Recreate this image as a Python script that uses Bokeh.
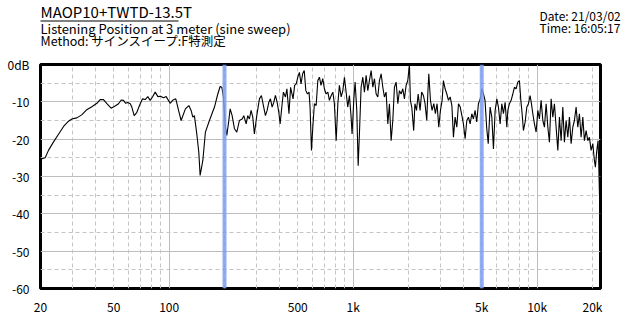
from bokeh.plotting import figure
from bokeh.models import Range1d, FixedTicker, Grid
from bokeh.layouts import column
from bokeh.core.properties import value
from bokeh.embed import file_html
from bokeh.resources import INLINE

FONT = "Noto Sans CJK JP"

title_text = "MAOP10+TWTD-13.5T"
subtitle_text = "Listening Position at 3 meter (sine sweep)"
method_text = "Method:  サインスイープ:F特測定"
date_text = "Date: 21/03/02"
time_text = "Time: 16:05:17"

x_ticks = [20, 50, 100, 500, 1000, 5000, 10000, 20000]
x_tick_labels = ["20", "50", "100", "500", "1k", "5k", "10k", "20k"]
y_ticks = [-60, -50, -40, -30, -20, -10, 0]
y_tick_labels = ["-60", "-50", "-40", "-30", "-20", "-10", "0dB"]
x_major_grid = [100, 1000, 10000]
x_minor_grid = [30, 40, 50, 60, 70, 80, 90,
                200, 300, 400, 500, 600, 700, 800, 900,
                2000, 3000, 4000, 5000, 6000, 7000, 8000, 9000, 20000]
y_major_grid = [-50, -40, -30, -20, -10]
y_minor_grid = [-55, -45, -35, -25, -15, -5]
marker_hz = [200, 5000]

freq_hz = [
    20.0, 21.2, 22.1, 23.5, 25.1, 26.7, 28.4, 29.6, 31.5, 33.5, 35.7, 38.0, 40.5, 42.2, 44.0,
    45.9, 48.4, 50.9, 53.1, 54.9, 56.5, 58.1, 59.6, 61.5, 62.7, 64.6, 66.8, 69.0, 71.7, 74.1,
    76.6, 78.9, 81.2, 84.0, 86.9, 89.8, 93.2, 96.4, 101.3, 105.1, 108.7, 112.3, 116.2, 122.6,
    128, 131.7, 134.5, 137.2, 141.4, 145, 147.4, 152.5, 157.5, 165.6, 176.4, 183.9, 189.3,
    193.4, 197.3, 202.3, 205.9, 211.1, 214.6, 220, 226.5, 233.3, 241, 249.4, 254.6, 262.2,
    267.6, 273.1, 278.9, 284.9, 290.7, 299.5, 309.6, 317.4, 325.4, 333.8, 341, 348.3, 355.3,
    363, 370.7, 378.2, 386.2, 394.6, 401.1, 411.4, 418, 428.8, 436.6, 448, 457.3, 471.6, 481,
    490.7, 500.6, 510.7, 521, 531.6, 542.4, 553.4, 564.7, 576.1, 583.4, 593.8, 603.8, 616,
    629.5, 643, 656, 669, 684, 698, 713, 729, 743, 760, 776, 791, 809, 826, 842, 861, 879, 897,
    916, 935, 955, 975, 987, 1009, 1025, 1047, 1065, 1082, 1105, 1129, 1152, 1177, 1202, 1226,
    1253, 1280, 1306, 1334, 1362, 1390, 1420, 1450, 1479, 1511, 1544, 1575, 1609, 1643, 1677,
    1713, 1750, 1785, 1823, 1862, 1900, 1941, 1982, 2023, 2048, 2083, 2134, 2167, 2211, 2257,
    2311, 2358, 2410, 2460, 2513, 2546, 2578, 2632, 2686, 2745, 2800, 2859, 2920, 2982, 3045,
    3096, 3162, 3230, 3297, 3369, 3441, 3509, 3583, 3660, 3738, 3820, 3900, 3976, 4062, 4148,
    4234, 4324, 4416, 4505, 4600, 4697, 4796, 4907, 5007, 5107, 5210, 5316, 5424, 5553, 5672,
    5789, 5913, 6040, 6161, 6294, 6429, 6559, 6700, 6845, 6930, 7071, 7222, 7377, 7527, 7689,
    7854, 8013, 8155, 8289, 8424, 8606, 8791, 8969, 9161, 9312, 9476, 9668, 9876, 10088, 10292,
    10513, 10739, 10958, 11193, 11433, 11665, 11915, 12171, 12417, 12684, 12956, 13218, 13502,
    13792, 14071, 14373, 14682, 14979, 15301, 15630, 15946, 16288, 16638, 16975, 17339, 17712,
    18070, 18458, 18855, 19236, 19649, 20071, 20477, 20735, 21100, 21447, 21636, 22000,
]
level_db = [
    -25.4, -25.0, -23.0, -20.8, -18.6, -16.6, -15.2, -14.6, -14.3, -13.5, -12.1, -11.3, -10.4, -9.4, -9.4,
    -10.5, -11.7, -11.1, -10.5, -9.5, -9.6, -10.4, -10.2, -10.5, -11.4, -13.7, -12.8, -11.0, -9.2, -9.4,
    -8.6, -9.6, -8.7, -7.4, -8.6, -8.5, -8.9, -8.6, -10.4, -9.5, -9.2, -12.1, -15.0, -11.9,
    -11.0, -12.3, -14.1, -13.7, -18.6, -23.5, -29.7, -25.7, -18.1, -15.0, -11.4, -7.9, -5.9,
    -6.1, -8.7, -16.8, -19.0, -15.0, -11.9, -13.7, -17.2, -18.1, -15.0, -14.6, -13.7, -15.9,
    -13.7, -14.6, -12.3, -14.1, -18.6, -13.7, -9.2, -8.3, -11.0, -13.7, -12.3, -10.1, -9.2,
    -11.4, -10.1, -8.3, -10.1, -12.8, -15.9, -10.5, -7.4, -8.7, -6.5, -13.2, -6.1, -9.2, -5.6,
    -5.2, -3.4, -2.1, -5.2, -2.5, -1.6, -7.0, -7.9, -7.4, -11.4, -23.0, -16.8, -10.5,
    -11.0, -4.3, -3.4, -5.6, -3.8, -6.5, -7.9, -7.4, -9.6, -8.3, -7.4, -10.5, -20.4, -10.5, -5.6, -8.7, -7.0, -3.4,
    -7.4, -11.4, -8.3, -14.1, -18.6, -9.2, -4.7, -12.3, -27.1, -18.6, -6.1, -3.4, -7.4, -2.9, -7.0, -4.3,
    -1.6, -6.1, -3.8, -7.9, -8.7, -4.3, -2.5, -6.1, -8.7, -7.4, -15.9, -10.5, -20.4, -15.0, -6.1,
    -4.7, -10.5, -7.0, -7.9, -6.5, -9.2, -5.6, -4.3, 0.0, -9.6, -11.4, -17.7, -10.5, -12.3, -7.9,
    -12.3, -7.4, -8.3, -10.5, -15.0, -7.9, -2.5, -9.6, -12.3, -10.5, -13.2, -10.5, -16.8, -12.3, -9.6,
    -4.3, -6.5, -7.9, -9.6, -8.7, -11.0, -19.5, -14.1, -16.8, -10.5, -11.4, -13.7, -15.9, -19.9, -15.0,
    -14.1, -15.9, -13.2, -14.6, -12.3, -15.4, -10.5, -9.2, -6.5, -7.9, -9.6, -16.8, -21.2, -11.4, -14.1,
    -22.6, -12.3, -9.2, -11.4, -15.9, -10.5, -13.2, -10.1, -16.8, -12.3, -10.5, -9.6, -7.9, -6.1, -6.5,
    -4.7, -4.3, -9.6, -13.2, -17.7, -15.4, -11.4, -10.5, -8.3, -10.5, -13.2, -15.9, -18.1, -12.3, -14.6,
    -9.6, -15.0, -16.8, -10.5, -16.8, -20.8, -9.2, -14.1, -10.5, -16.8, -23.0, -14.1, -20.4,
    -11.4, -20.8, -15.0, -19.5, -14.1, -21.2, -16.8, -15.0, -11.4, -16.8, -13.2, -19.5, -14.1,
    -20.4, -17.7, -20.4, -19.5, -23.0, -21.2, -25.7, -27.5, -23.0, -20.4, -27.1, -42.7,
]

# ---------- header (a borderless figure used as a text panel) ----------
h = figure(width=640, height=50, output_backend="svg", toolbar_location=None,
           x_range=Range1d(0, 640), y_range=Range1d(50, 0),
           x_axis_location=None, y_axis_location=None,
           min_border=0, min_border_left=0, min_border_right=0,
           min_border_top=0, min_border_bottom=0)
if "frame_align" in h.properties():
    h.frame_align = False
h.outline_line_color = None
h.grid.visible = False
h.background_fill_color = "white"
h.border_fill_color = "white"

h.text(x=[40], y=[10.5], text=[title_text], text_font=value(FONT),
       text_font_size="15px", text_color="black", text_baseline="middle")
h.segment(x0=[40], y0=[20.5], x1=[178], y1=[20.5], line_color="black", line_width=1)
h.text(x=[40], y=[28], text=[subtitle_text], text_font=value(FONT),
       text_font_size="13px", text_color="black", text_baseline="middle")
h.text(x=[40], y=[39.5], text=[method_text], text_font=value(FONT),
       text_font_size="12.5px", text_color="black", text_baseline="middle")
h.text(x=[539, 539], y=[14.5, 26.5], text=[date_text, time_text], text_font=value(FONT),
       text_font_size="12px", text_color="black", text_baseline="middle")

# ---------- main chart ----------
p = figure(width=640, height=270, x_axis_type="log", output_backend="svg",
           toolbar_location=None, min_border_left=40, min_border_right=40,
           min_border_top=14, min_border_bottom=32,
           x_range=Range1d(20, 22100), y_range=Range1d(-60, 0))
if "frame_align" in p.properties():
    p.frame_align = False
p.background_fill_color = "white"
p.border_fill_color = "white"
p.outline_line_color = "black"
p.outline_line_width = 3

p.xgrid.ticker = FixedTicker(ticks=x_major_grid)
p.ygrid.ticker = FixedTicker(ticks=y_major_grid)
p.xgrid.grid_line_color = "#bdbdbd"
p.ygrid.grid_line_color = "#bdbdbd"
p.add_layout(Grid(dimension=0, ticker=FixedTicker(ticks=x_minor_grid),
                  grid_line_color="#c4c4c4", grid_line_dash="4 3"))
p.add_layout(Grid(dimension=1, ticker=FixedTicker(ticks=y_minor_grid),
                  grid_line_color="#c4c4c4", grid_line_dash="4 3"))

for ax in (p.xaxis[0], p.yaxis[0]):
    ax.axis_line_color = None
    ax.major_tick_line_color = None
    ax.minor_tick_line_color = None
    ax.major_label_text_font = FONT
    ax.major_label_text_font_size = "12px"
    ax.major_label_text_color = "black"
p.xaxis.ticker = FixedTicker(ticks=x_ticks)
p.xaxis.major_label_overrides = {t: l for t, l in zip(x_ticks, x_tick_labels)}
p.xaxis.major_label_standoff = 3
p.yaxis.ticker = FixedTicker(ticks=y_ticks)
p.yaxis.major_label_overrides = {t: l for t, l in zip(y_ticks, y_tick_labels)}
p.yaxis.major_label_standoff = 5

p.line(freq_hz, level_db, line_color="black", line_width=1.1)
p.segment(x0=marker_hz, y0=[-60] * len(marker_hz), x1=marker_hz, y1=[0] * len(marker_hz),
          line_color="#7d9ef0", line_width=4, line_alpha=0.85)

layout = column(h, p, spacing=0)
open("out.html", "w").write(file_html(layout, INLINE))
